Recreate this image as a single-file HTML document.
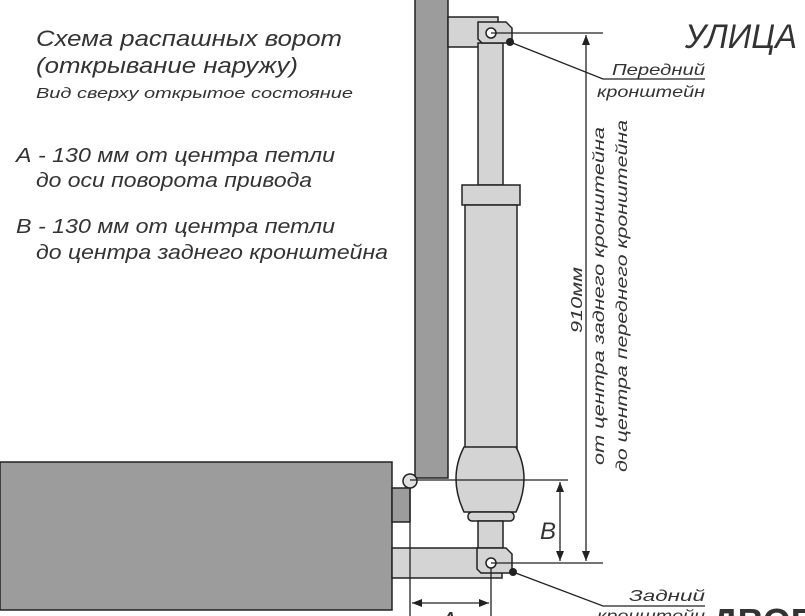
<!DOCTYPE html>
<html><head><meta charset="utf-8"><style>
html,body{margin:0;padding:0;background:#fff;}
svg{display:block;font-family:"Liberation Sans",sans-serif;}
</style></head><body>
<svg width="805" height="616" viewBox="0 0 805 616" xmlns="http://www.w3.org/2000/svg">
<defs>
<marker id="ar" viewBox="0 0 10 10" refX="10" refY="5" markerWidth="10" markerHeight="10" orient="auto-start-reverse" markerUnits="userSpaceOnUse"><path d="M0,1 L10,5 L0,9 Z" fill="#222"/></marker>
</defs>
<g font-style="italic" fill="#333" lengthAdjust="spacingAndGlyphs">
<text x="36" y="46" font-size="22" textLength="306" lengthAdjust="spacingAndGlyphs">Схема распашных ворот</text>
<text x="36" y="73" font-size="22" textLength="262" lengthAdjust="spacingAndGlyphs">(открывание наружу)</text>
<text x="36" y="98" font-size="15" textLength="317" lengthAdjust="spacingAndGlyphs">Вид сверху открытое состояние</text>
<text x="16" y="162" font-size="20" textLength="319" lengthAdjust="spacingAndGlyphs">А - 130 мм от центра петли</text>
<text x="36" y="187" font-size="20" textLength="276" lengthAdjust="spacingAndGlyphs">до оси поворота привода</text>
<text x="16" y="233" font-size="20" textLength="319" lengthAdjust="spacingAndGlyphs">В - 130 мм от центра петли</text>
<text x="36" y="259" font-size="20" textLength="352" lengthAdjust="spacingAndGlyphs">до центра заднего кронштейна</text>
</g>
<g stroke="#222" stroke-width="1.5">
<rect x="415" y="-2" width="33" height="480" fill="#9c9c9c"/>
<rect x="0" y="462" width="392" height="148" fill="#9c9c9c"/>
<rect x="392" y="488" width="18" height="34" fill="#9c9c9c"/>
<rect x="448" y="17" width="50" height="30" fill="#d4d4d4"/>
<rect x="478" y="43" width="25" height="142" fill="#d4d4d4"/>
<rect x="462" y="185" width="58" height="20" fill="#d4d4d4"/>
<rect x="465" y="205" width="52" height="245" fill="#d4d4d4"/>
<path d="M464,447 L516,447 Q532,478 516,512 L464,512 Q448,478 464,447 Z" fill="#d4d4d4"/>
<rect x="468" y="512" width="46" height="9" rx="4" fill="#d4d4d4"/>
<rect x="478" y="521" width="25" height="29" fill="#d4d4d4"/>
<rect x="392" y="548" width="110" height="30" fill="#d4d4d4"/>
<path d="M478,22 L506,22 L512,28 L512,43 L482,43 L478,39 Z" fill="#d4d4d4"/>
<path d="M477,548 L506,548 L512,554 L512,573 L481,573 L477,569 Z" fill="#d4d4d4"/>
<circle cx="491" cy="33" r="5" fill="#fff"/>
<circle cx="491" cy="563" r="5" fill="#fff"/>
</g>
<circle cx="510" cy="42" r="4" fill="#222"/>
<circle cx="513" cy="572" r="4" fill="#222"/>
<circle cx="410" cy="481" r="7" fill="#e0e0e0" stroke="#222" stroke-width="1.5"/>
<g stroke="#222" stroke-width="1.3" fill="none">
<line x1="491" y1="33" x2="603" y2="33"/>
<line x1="491" y1="563" x2="603" y2="563"/>
<line x1="410" y1="480" x2="568" y2="480"/>
<polyline points="510,42 603,79 705,79"/>
<polyline points="513,572 603,606 705,606"/>
<line x1="410" y1="488" x2="410" y2="616"/>
<line x1="491" y1="568" x2="491" y2="616"/>
<line x1="560" y1="482" x2="560" y2="561" marker-start="url(#ar)" marker-end="url(#ar)"/>
<line x1="586" y1="35" x2="586" y2="561" marker-start="url(#ar)" marker-end="url(#ar)"/>
<line x1="412" y1="603" x2="489" y2="603" marker-start="url(#ar)" marker-end="url(#ar)"/>
</g>
<g font-style="italic" fill="#333">
<text x="685" y="48" font-size="34" textLength="112" lengthAdjust="spacingAndGlyphs">УЛИЦА</text>
<text x="705" y="75" font-size="16" text-anchor="end" textLength="93" lengthAdjust="spacingAndGlyphs">Передний</text>
<text x="705" y="97" font-size="16" text-anchor="end" textLength="108" lengthAdjust="spacingAndGlyphs">кронштейн</text>
<text x="705" y="601" font-size="16" text-anchor="end" textLength="76" lengthAdjust="spacingAndGlyphs">Задний</text>
<text x="705" y="621" font-size="16" text-anchor="end" textLength="108" lengthAdjust="spacingAndGlyphs">кронштейн</text>
<text x="540" y="539" font-size="24">B</text>
<text x="440" y="630" font-size="26">A</text>
<text x="712" y="634" font-size="36" font-style="normal" font-weight="bold">ДВОР</text>
<text transform="translate(582,300) rotate(-90)" font-size="16" text-anchor="middle" textLength="66" lengthAdjust="spacingAndGlyphs">910мм</text>
<text transform="translate(604,296) rotate(-90)" font-size="16" text-anchor="middle" textLength="338" lengthAdjust="spacingAndGlyphs">от центра заднего кронштейна</text>
<text transform="translate(627,296) rotate(-90)" font-size="16" text-anchor="middle" textLength="352" lengthAdjust="spacingAndGlyphs">до центра переднего кронштейна</text>
</g>
</svg>
</body></html>
